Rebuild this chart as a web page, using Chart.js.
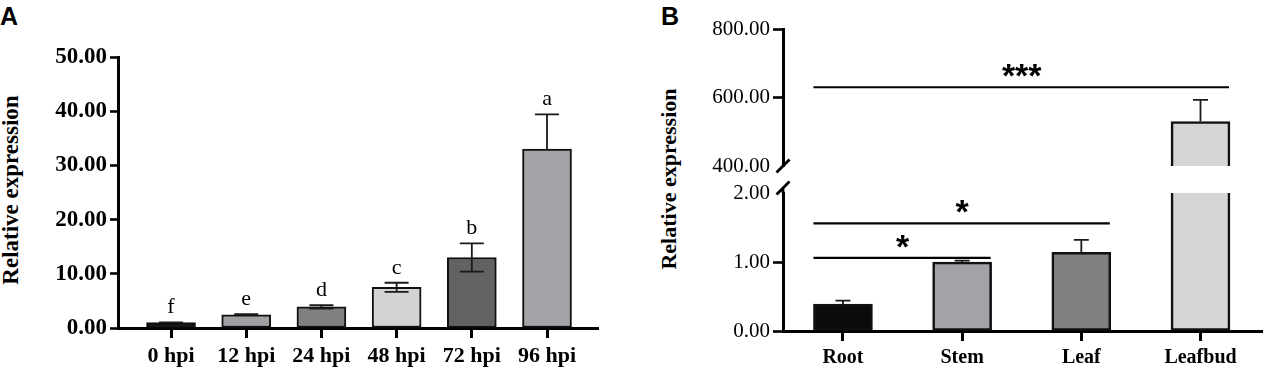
<!DOCTYPE html>
<html><head><meta charset="utf-8">
<script src="https://cdn.jsdelivr.net/npm/chart.js@4.4.0/dist/chart.umd.min.js"></script>
<style>
html,body{margin:0;padding:0;background:#fff;}
#wrap{position:relative;width:1264px;height:369px;overflow:hidden;background:#fff;}
canvas{position:absolute;}
.ttl{position:absolute;font-family:"Liberation Serif",serif;font-weight:bold;white-space:nowrap;line-height:1;transform:translate(-50%,-50%) rotate(-90deg);color:#000;}
.pl{position:absolute;font-family:"Liberation Sans",Arial,sans-serif;font-weight:bold;font-size:25px;line-height:1;color:#000;}
</style></head><body>
<div id="wrap">
<div class="pl" style="left:0px;top:4px">A</div>
<div class="pl" style="left:661px;top:4px">B</div>
<div class="ttl" style="left:10px;top:190px;font-size:23px">Relative expression</div>
<div class="ttl" style="left:669px;top:179px;font-size:22px">Relative expression</div>
<canvas id="cA" width="620" height="369" style="left:0;top:0;width:620px;height:369px"></canvas>
<canvas id="cBu" width="604" height="200" style="left:660px;top:0;width:604px;height:200px"></canvas>
<canvas id="cBl" width="604" height="219" style="left:660px;top:150px;width:604px;height:219px"></canvas>
</div>
<script>
// ---- Panel A data ----
const catsA = ['0 hpi','12 hpi','24 hpi','48 hpi','72 hpi','96 hpi'];
const valsA = [1.0, 2.45, 3.9, 7.5, 13.0, 33.0];
const errA = [0.05, 0.12, 0.3, 0.85, 2.6, 6.4];
const lowerWhiskerA = [false, false, true, true, true, false];
const lettersA = ['f','e','d','c','b','a'];
const colorsA = ['#0d0d0d','#a0a0a4','#808080','#d3d3d3','#626262','#a2a2a7'];
const ticksA = [0,10,20,30,40,50];

// ---- Panel B data ----
const catsB = ['Root','Stem','Leaf','Leafbud'];
const valsB = [0.39, 1.0, 1.14, 530];
const errB = [0.05, 0.02, 0.18, 63];
const colorsB = ['#0b0b0b','#a2a2a7','#808080','#d5d5d5'];
const ticksBLow = [0, 1, 2];
const ticksBHigh = [400, 600, 800];
const sigFrom = [0, 0, 0];
const sigTo = [1, 2, 3];
const sigLevel = [1.06, 1.56, 630];
const sigMark = ['*', '*', '***'];

const SERIF = '"Liberation Serif", "Times New Roman", serif';
const SANS = '"Liberation Sans", Arial, sans-serif';

function errPlugin(vals, errs, lower, capHalf, letters) {
  return {
    id: 'errbars',
    afterDatasetsDraw(chart) {
      const ctx = chart.ctx, xs = chart.scales.x, ys = chart.scales.y;
      ctx.save();
      ctx.strokeStyle = '#1a1a1a';
      ctx.lineWidth = 1.8;
      vals.forEach((v, i) => {
        if (v > ys.max || v < ys.min) return;
        const x = xs.getPixelForValue(i);
        const yv = ys.getPixelForValue(v);
        const yt = ys.getPixelForValue(v + errs[i]);
        const yb = ys.getPixelForValue(v - errs[i]);
        ctx.beginPath();
        ctx.moveTo(x, yv); ctx.lineTo(x, yt);
        ctx.moveTo(x - capHalf, yt); ctx.lineTo(x + capHalf, yt);
        if (lower && lower[i]) {
          ctx.moveTo(x, yv); ctx.lineTo(x, yb);
          ctx.moveTo(x - capHalf, yb); ctx.lineTo(x + capHalf, yb);
        }
        ctx.stroke();
        if (letters) {
          ctx.fillStyle = '#000';
          ctx.font = '22px ' + SERIF;
          ctx.textAlign = 'center';
          ctx.textBaseline = 'alphabetic';
          ctx.fillText(letters[i], x, yt - 9);
        }
      });
      ctx.restore();
    }
  };
}

function sigPlugin(barHalf) {
  return {
    id: 'sig',
    afterDatasetsDraw(chart) {
      const ctx = chart.ctx, xs = chart.scales.x, ys = chart.scales.y;
      ctx.save();
      sigLevel.forEach((lv, k) => {
        if (lv > ys.max || lv < ys.min) return;
        const y = ys.getPixelForValue(lv);
        const x1 = xs.getPixelForValue(sigFrom[k]) - barHalf;
        const x2 = xs.getPixelForValue(sigTo[k]) + barHalf - 1;
        ctx.strokeStyle = '#000';
        ctx.lineWidth = 2.2;
        ctx.beginPath(); ctx.moveTo(x1, y); ctx.lineTo(x2, y); ctx.stroke();
        const xm = (xs.getPixelForValue(sigFrom[k]) + xs.getPixelForValue(sigTo[k])) / 2;
        ctx.font = 'bold 34px ' + SANS;
        ctx.fillStyle = '#000';
        ctx.textAlign = 'center';
        ctx.textBaseline = 'alphabetic';
        const m = ctx.measureText(sigMark[k]);
        const inkC = (m.actualBoundingBoxAscent - m.actualBoundingBoxDescent) / 2;
        const target = y - 16.5;
        ctx.fillText(sigMark[k], xm, target + inkC);
      });
      ctx.restore();
    }
  };
}

function breakPlugin(where) {
  return {
    id: 'axbreak',
    afterDraw(chart) {
      const ctx = chart.ctx, a = chart.chartArea;
      const x = a.left;
      ctx.save();
      ctx.strokeStyle = '#000';
      ctx.lineWidth = 2.8;
      ctx.beginPath();
      let cy;
      if (where === 'bottom') {
        cy = a.bottom;
      } else {
        cy = a.top - 5;
        ctx.moveTo(x, a.top); ctx.lineTo(x, cy);
      }
      ctx.moveTo(x - 6.5, cy + 6.5); ctx.lineTo(x + 6.5, cy - 6.5);
      ctx.stroke();
      ctx.restore();
    }
  };
}

function yScale(min, max, ticks, width, fontSpec, tickLen, hideTick) {
  return {
    min: min, max: max,
    afterBuildTicks: s => { s.ticks = ticks.map(v => ({ value: v })); },
    afterFit: s => { s.width = width; },
    grid: {
      drawOnChartArea: false, drawTicks: true, tickLength: tickLen, tickWidth: 2.6,
      tickColor: c => (c.tick && hideTick !== undefined && c.tick.value === hideTick) ? 'rgba(0,0,0,0)' : '#000'
    },
    border: { display: true, color: '#000', width: 3 },
    ticks: {
      callback: v => Number(v).toFixed(2),
      font: fontSpec, color: '#000', padding: 3, autoSkip: false
    }
  };
}

function xScale(min, max, cats, height, fontSpec, show) {
  return {
    type: 'linear', min: min, max: max, display: show, offset: false,
    afterBuildTicks: s => { s.ticks = cats.map((c, i) => ({ value: i })); },
    afterFit: s => { s.height = height; },
    grid: { offset: false, drawOnChartArea: false, drawTicks: true, tickLength: 10, tickWidth: 3, tickColor: '#000' },
    border: { display: true, color: '#000', width: 3 },
    ticks: {
      callback: v => cats[v], font: fontSpec, color: '#000', padding: 5,
      maxRotation: 0, minRotation: 0, autoSkip: false
    }
  };
}

const common = {
  responsive: false, animation: false, devicePixelRatio: 1,
  plugins: { legend: { display: false }, tooltip: { enabled: false } }
};

// Panel A
new Chart(document.getElementById('cA'), {
  type: 'bar',
  data: { datasets: [{
    data: catsA.map((c, i) => ({ x: i, y: valsA[i] })),
    backgroundColor: colorsA, borderColor: '#111', borderWidth: 2,
    borderSkipped: false, barThickness: 49
  }]},
  options: Object.assign({}, common, {
    layout: { padding: { left: 0, top: 57, right: 22, bottom: 0 } },
    scales: {
      x: xScale(-0.705, 5.678, catsA, 41, { family: SERIF, weight: 'bold', size: 22 }, true),
      y: yScale(0, 50, ticksA, 118, { family: SERIF, weight: 'bold', size: 23 }, 8)
    }
  }),
  plugins: [errPlugin(valsA, errA, lowerWhiskerA, 12, lettersA)]
});

const dsB = () => ({
  data: catsB.map((c, i) => ({ x: i, y: valsB[i] })),
  backgroundColor: colorsB, borderColor: '#111', borderWidth: 2.6,
  borderSkipped: false, barThickness: 59, clip: 0
});

// Panel B upper segment
new Chart(document.getElementById('cBu'), {
  type: 'bar',
  data: { datasets: [dsB()] },
  options: Object.assign({}, common, {
    layout: { padding: { left: 0, top: 29, right: 2, bottom: 34 } },
    scales: {
      x: xScale(-0.503, 3.516, catsB, 0, { family: SERIF, weight: 'bold', size: 20 }, false),
      y: yScale(400, 800, ticksBHigh, 123, { family: SERIF, size: 21 }, 10, 400)
    }
  }),
  plugins: [errPlugin(valsB, errB, null, 7.5, null), sigPlugin(29.5), breakPlugin('bottom')]
});

// Panel B lower segment
new Chart(document.getElementById('cBl'), {
  type: 'bar',
  data: { datasets: [dsB()] },
  options: Object.assign({}, common, {
    layout: { padding: { left: 0, top: 43, right: 2, bottom: 0 } },
    scales: {
      x: xScale(-0.503, 3.516, catsB, 38, { family: SERIF, weight: 'bold', size: 20 }, true),
      y: yScale(0, 2, ticksBLow, 123, { family: SERIF, size: 21 }, 10, 2)
    }
  }),
  plugins: [errPlugin(valsB, errB, null, 7.5, null), sigPlugin(29.5), breakPlugin('top')]
});
</script>
</body></html>
